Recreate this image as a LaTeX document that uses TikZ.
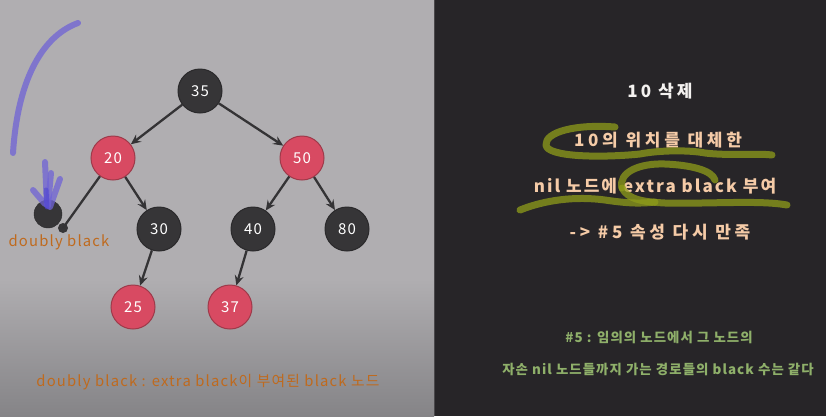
\documentclass[tikz,border=0pt]{standalone}
\usepackage{fontspec}
\setmainfont{Noto Sans CJK KR}[LetterSpace=8]
\newfontfamily\wideb{Noto Sans CJK KR}[LetterSpace=12]
\newfontfamily\widec{Noto Sans CJK KR}[LetterSpace=22]
\newfontfamily\wided{Noto Sans CJK KR}[LetterSpace=18]
\usetikzlibrary{arrows.meta}
\definecolor{bgtop}{HTML}{B0AEB1}
\definecolor{bgbot}{HTML}{858487}
\definecolor{darkbg}{HTML}{272528}
\definecolor{divline}{HTML}{4A484B}
\definecolor{nblack}{HTML}{363537}
\definecolor{nblackb}{HTML}{2A292B}
\definecolor{nred}{HTML}{D84A62}
\definecolor{nredb}{HTML}{9E3A4A}
\definecolor{edgec}{HTML}{343335}
\definecolor{orangec}{HTML}{BF6A1E}
\definecolor{peach}{HTML}{F5CBA7}
\definecolor{whitec}{HTML}{F4F2F0}
\definecolor{greenc}{HTML}{8FB06A}
\definecolor{olive}{HTML}{8E9C1A}
\definecolor{purplec}{HTML}{6F63D6}
\definecolor{bluec}{HTML}{4A3FD0}
\tikzset{
  rbnode/.style={circle, minimum size=44pt, inner sep=0pt, line width=1pt, text=white, font=\fontsize{15}{15}\selectfont},
  blk/.style={rbnode, fill=nblack, draw=nblackb},
  rd/.style={rbnode, fill=nred, draw=nredb},
  edge/.style={draw=edgec, line width=2.3pt, -{Stealth[length=10pt,width=9pt,inset=3.5pt]}},
  plainedge/.style={draw=edgec, line width=2.3pt},
  rtext/.style={font=\wideb\bfseries\fontsize{17}{17}\selectfont},
  rtextw/.style={font=\widec\bfseries\fontsize{17}{17}\selectfont},
  rtextm/.style={font=\wided\bfseries\fontsize{17}{17}\selectfont},
  gtext/.style={text=greenc, font=\bfseries\fontsize{13.4}{13.4}\selectfont},
  otext/.style={text=orangec, font=\fontsize{14.8}{14.8}\selectfont},
  hl/.style={draw=olive, line width=7pt, opacity=0.75, line cap=round, line join=round},
  pen/.style={draw=purplec, line width=6pt, opacity=0.75, line cap=round},
  pen2/.style={draw=bluec, line width=5pt, opacity=0.55, line cap=round}
}
\begin{document}
\begin{tikzpicture}[x=1pt,y=-1pt]
\useasboundingbox (0,0) rectangle (826,416);
% backgrounds
\fill[bgtop] (0,0) rectangle (434,280);
\shade[top color=bgtop, bottom color=bgbot] (0,279) rectangle (434,416);
\fill[darkbg] (434,0) rectangle (826,416);
\draw[divline, line width=1pt] (434.5,0) -- (434.5,416);
% tree nodes
\node[blk] (n35) at (200,91) {35};
\node[rd]  (n20) at (113,158) {20};
\node[rd]  (n50) at (302,158) {50};
\node[blk] (n30) at (159,229) {30};
\node[blk] (n40) at (253,229) {40};
\node[blk] (n80) at (347,229) {80};
\node[rd]  (n25) at (133,307) {25};
\node[rd]  (n37) at (230,307) {37};
\node[circle, fill=nblack, draw=nblackb, minimum size=28pt, inner sep=0pt] (db) at (48,214) {};
\node[circle, fill=nblack, minimum size=10pt, inner sep=0pt] (dot) at (63,228) {};
% edges
\draw[edge] (n35) -- (n20);
\draw[edge] (n35) -- (n50);
\draw[edge] (n20) -- (n30);
\draw[edge] (n50) -- (n40);
\draw[edge] (n50) -- (n80);
\draw[edge] (n30) -- (n25);
\draw[edge] (n40) -- (n37);
\draw[plainedge] (n20) -- (dot.center);
% labels
\node[otext] (dbl) at (59,242) {doubly black};
\node[otext] (defn) at (208,382) {doubly black : extra black이 부여된 black 노드};
% pen strokes
\draw[pen] (78,23) .. controls (45,35) and (18,75) .. (13,153);
\draw[pen] (45,162) -- (47,205);
\draw[pen] (51,173) -- (48,206);
\draw[pen] (60,179) -- (50,207);
\draw[pen] (33,190) -- (45,204);
\draw[pen2] (46,190) -- (47,207);
% right side text
\node[rtextm, text=whitec] (t1) at (660,91) {10 삭제};
\node[rtextw, text=peach] (t2) at (658,140) {10의 위치를 대체한};
\node[rtext, text=peach] (t3) at (655,186) {nil 노드에 extra black 부여};
\node[rtextw, text=peach] (t4) at (660,232) {-> \#5 속성 다시 만족};
\node[gtext] (g1) at (659,337) {\#5 : 임의의 노드에서 그 노드의};
\node[gtext] (g2) at (658,369) {자손 nil 노드들까지 가는 경로들의 black 수는 같다};
% highlighter strokes
\draw[hl] (615,127) .. controls (575,124) and (545,132) .. (546,145)
  .. controls (547,157) and (600,158) .. (640,154)
  .. controls (660,150) and (690,150) .. (705,153)
  .. controls (730,156) and (755,153) .. (772,155);
\draw[hl] (520,210) .. controls (545,200) and (575,196) .. (605,200)
  .. controls (625,203) and (640,204) .. (655,202);
\draw[hl] (622,188) .. controls (618,172) and (640,163) .. (665,164)
  .. controls (690,165) and (712,170) .. (715,180);
\draw[hl] (622,188) .. controls (628,200) and (645,202) .. (665,203)
  .. controls (710,204) and (760,200) .. (787,205);
\end{tikzpicture}
\end{document}
